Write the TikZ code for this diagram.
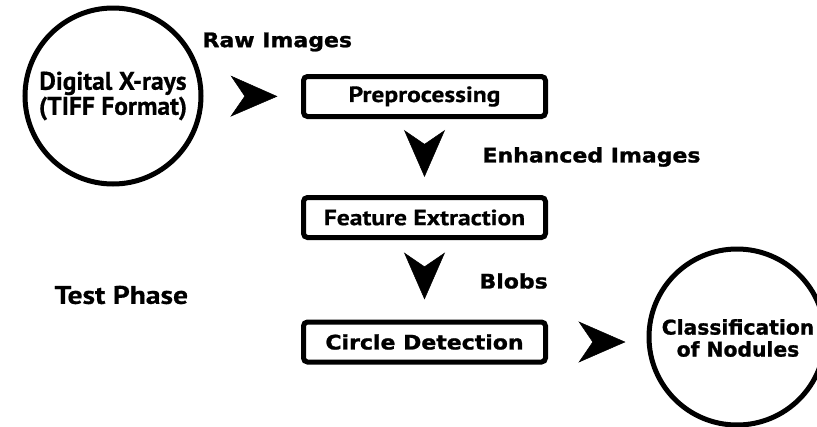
\documentclass[tikz,border=0pt]{standalone}
\usepackage{fontspec}
\usetikzlibrary{arrows.meta}
\newfontfamily\myr[FakeBold=0.6]{PT Sans}
\newfontfamily\myrw[FakeStretch=1.16,FakeBold=0.6]{PT Sans}
\newfontfamily\blk[FakeStretch=1.1,FakeBold=1.2]{DejaVu Sans}
\newfontfamily\blkn[FakeBold=1.2]{DejaVu Sans}
\begin{document}
\begin{tikzpicture}[x=1pt,y=-1pt,
  circ/.style={circle,draw,line width=5pt,inner sep=0pt,minimum size=176pt,align=center},
  stepbox/.style={draw,line width=5pt,rounded corners=4pt,minimum width=242pt,minimum height=40pt,inner sep=0pt},
  bigarrow/.style={line width=0.5pt,draw,fill,-{Stealth[length=47pt,width=41pt,inset=14pt]}},
  myrtxt/.style={font=\myrw\bfseries\fontsize{22}{24}\selectfont},
  blktxt/.style={font=\blk\bfseries\fontsize{20}{24}\selectfont},
]
\useasboundingbox (0,0) rectangle (817,426);
\node[circ,font=\myr\bfseries\fontsize{25.5}{25}\selectfont] (xr) at (113,96) {Digital X-rays\\(TIFF Format)};
\node[stepbox,myrtxt] (pre) at (424.5,96.5) {Preprocessing};
\node[stepbox,myrtxt] (fe) at (424.5,217.5) {Feature Extraction};
\node[stepbox,blktxt] (cd) at (424.5,342) {Circle Detection};
\node[circ,font=\blkn\bfseries\fontsize{20.3}{22}\selectfont] (cl) at (737,337) {};
\node[font=\blkn\bfseries\fontsize{20.3}{22}\selectfont,align=center] (cltxt) at (738,338) {Classification\\of Nodules};
\node[blktxt,anchor=west] (raw) at (199,42) {Raw Images};
\node[blktxt,anchor=west] (enh) at (479,157) {Enhanced Images};
\node[blktxt,anchor=west] (blobs) at (476,281) {Blobs};
\node[anchor=west,font=\myrw\bfseries\fontsize{25.5}{25}\selectfont] (tp) at (51,295) {Test Phase};
\draw[bigarrow,shorten <=46pt,shorten >=23.5pt] (xr.east) -- (pre.west);
\draw[bigarrow,shorten <=29.5pt,shorten >=18pt] (pre.south) -- (fe.north);
\draw[bigarrow,shorten <=31.5pt,shorten >=20pt] (fe.south) -- (cd.north);
\draw[bigarrow,shorten <=49.5pt,shorten >=21pt] (cd.east) -- (cd.east -| cl.west);
\end{tikzpicture}
\end{document}
